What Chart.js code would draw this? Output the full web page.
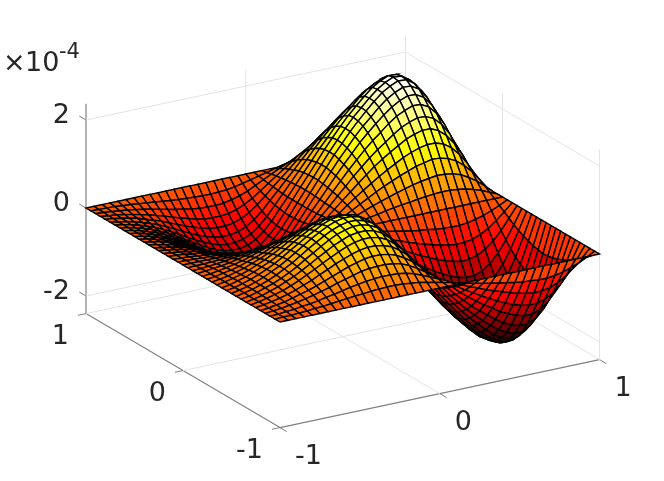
<!DOCTYPE html>
<html>
<head>
<meta charset="utf-8">
<style>html,body{margin:0;padding:0;background:#fff}</style>
<script src="https://cdn.jsdelivr.net/npm/chart.js@4"></script>
</head>
<body>
<canvas id="surf" width="664" height="481"></canvas>
<script>
// mesh positions and heights (heights in 1e-6)
const xGrid = [-1,-.95,-.9,-.85,-.8,-.75,-.7,-.65,-.6,-.55,-.5,-.45,-.4,-.35,-.3,-.25,-.2,-.15,-.1,-.05,0,.05,.1,.15,.2,.25,.3,.35,.4,.45,.5,.55,.6,.65,.7,.75,.8,.85,.9,.95,1];
const yGrid = [-1,-.95,-.9,-.85,-.8,-.75,-.7,-.65,-.6,-.55,-.5,-.45,-.4,-.35,-.3,-.25,-.2,-.15,-.1,-.05,0,.05,.1,.15,.2,.25,.3,.35,.4,.45,.5,.55,.6,.65,.7,.75,.8,.85,.9,.95,1];
const zRows = [
[0,0,0,0,0,0,0,0,0,0,0,0,0,0,0,0,0,0,0,0,0,0,0,0,0,0,0,0,0,0,0,0,0,0,0,0,0,0,0,0,0],
[0,1,1,2,3,5,6,8,10,12,14,15,17,18,19,19,18,16,14,10,6,2,-2,-6,-11,-15,-19,-22,-26,-29,-32,-35,-36,-38,-38,-36,-32,-26,-19,-10,0],
[0,1,3,4,7,9,12,16,19,23,27,30,33,35,36,36,35,32,27,20,12,4,-4,-13,-21,-29,-36,-44,-50,-56,-62,-67,-71,-74,-73,-70,-62,-51,-36,-19,0],
[0,2,4,7,10,14,18,23,28,34,39,44,49,52,53,53,51,47,39,29,17,5,-7,-19,-31,-43,-53,-64,-74,-83,-92,-99,-105,-108,-108,-102,-92,-75,-53,-27,0],
[0,2,5,8,13,18,23,29,36,43,50,57,62,67,69,69,66,60,50,38,22,7,-8,-24,-39,-55,-69,-83,-95,-106,-118,-127,-134,-139,-139,-132,-118,-97,-69,-35,0],
[0,3,6,10,15,21,28,35,44,52,61,68,75,80,83,83,79,73,61,46,27,8,-10,-29,-47,-66,-83,-100,-115,-128,-142,-154,-162,-168,-167,-159,-142,-117,-83,-42,0],
[0,3,7,12,17,24,32,41,50,60,69,78,86,92,95,95,91,83,69,52,31,10,-12,-33,-54,-75,-95,-114,-131,-147,-162,-176,-185,-192,-191,-181,-162,-133,-95,-48,0],
[0,3,7,13,19,27,35,45,55,66,76,86,94,101,104,104,100,91,76,57,34,11,-13,-36,-59,-83,-104,-125,-144,-161,-178,-193,-204,-211,-210,-199,-178,-146,-104,-53,0],
[0,3,8,14,20,28,37,47,59,70,81,92,101,107,111,111,106,97,81,61,36,11,-14,-38,-63,-88,-111,-133,-154,-172,-190,-206,-217,-225,-224,-212,-190,-156,-111,-57,0],
[0,4,8,14,21,29,39,49,61,73,84,95,104,111,115,115,110,101,84,63,37,12,-14,-40,-66,-91,-115,-138,-159,-178,-197,-213,-225,-233,-232,-220,-197,-161,-115,-59,0],
[0,4,8,14,21,30,39,50,62,74,86,96,106,113,117,117,112,102,86,64,38,12,-14,-40,-67,-93,-117,-140,-162,-181,-200,-217,-228,-237,-236,-224,-200,-164,-117,-60,0],
[0,3,8,14,21,29,38,49,61,72,84,94,104,111,114,114,110,100,84,63,37,12,-14,-40,-65,-91,-114,-137,-158,-177,-196,-212,-224,-232,-231,-219,-196,-161,-114,-58,0],
[0,3,8,13,20,28,36,46,57,69,80,90,98,105,108,108,104,95,80,60,35,11,-13,-38,-62,-86,-108,-130,-150,-168,-186,-201,-212,-220,-219,-208,-186,-152,-108,-55,0],
[0,3,7,12,18,26,34,43,53,64,74,83,91,97,100,100,96,88,74,55,33,10,-12,-35,-57,-80,-100,-121,-139,-156,-172,-187,-197,-204,-203,-193,-172,-141,-100,-51,0],
[0,3,6,11,16,23,30,38,48,57,66,74,81,87,90,90,86,79,66,49,29,9,-11,-31,-51,-71,-90,-108,-124,-139,-154,-167,-176,-182,-181,-172,-154,-126,-90,-46,0],
[0,2,6,9,14,20,26,33,41,49,57,64,70,75,77,77,74,68,57,43,25,8,-9,-27,-44,-62,-77,-93,-107,-120,-133,-144,-152,-157,-156,-149,-133,-109,-77,-40,0],
[0,2,5,8,12,16,22,28,34,41,47,53,58,62,64,64,62,56,47,35,21,7,-8,-22,-37,-51,-64,-77,-89,-100,-110,-119,-126,-130,-130,-123,-110,-90,-64,-33,0],
[0,2,4,6,9,13,17,21,26,31,36,41,45,48,49,49,47,43,36,27,16,5,-6,-17,-28,-39,-49,-59,-68,-76,-84,-91,-96,-100,-99,-94,-84,-69,-49,-25,0],
[0,1,2,4,6,9,11,14,18,21,24,28,30,32,33,33,32,29,24,18,11,3,-4,-12,-19,-27,-33,-40,-46,-52,-57,-62,-65,-68,-67,-64,-57,-47,-33,-17,0],
[0,1,1,2,3,4,6,7,9,11,13,14,16,17,17,17,16,15,13,9,6,2,-2,-6,-10,-14,-17,-21,-24,-27,-29,-32,-34,-35,-35,-33,-29,-24,-17,-9,0],
[0,0,0,0,0,0,0,0,0,0,0,0,0,0,0,0,0,0,0,0,0,0,0,0,0,0,0,0,0,0,0,0,0,0,0,0,0,0,0,0,0],
[0,0,-1,-2,-3,-4,-5,-7,-8,-10,-12,-13,-14,-15,-16,-16,-15,-14,-12,-9,-5,-2,2,5,9,12,16,19,22,24,27,29,31,32,32,30,27,22,16,8,0],
[0,-1,-2,-4,-6,-8,-10,-13,-16,-20,-23,-26,-28,-30,-31,-31,-30,-27,-23,-17,-10,-3,4,11,18,25,31,37,43,48,53,57,60,63,62,59,53,43,31,16,0],
[0,-1,-3,-6,-8,-12,-15,-20,-24,-29,-33,-38,-41,-44,-46,-46,-44,-40,-33,-25,-15,-5,6,16,26,36,46,55,63,71,78,85,89,93,92,87,78,64,46,23,0],
[0,-2,-4,-7,-11,-15,-20,-25,-31,-38,-44,-49,-54,-57,-59,-59,-57,-52,-44,-33,-19,-6,7,21,34,47,59,71,82,92,102,110,116,120,120,114,102,83,59,30,0],
[0,-2,-5,-9,-13,-18,-24,-31,-38,-46,-53,-60,-65,-70,-72,-72,-69,-63,-53,-40,-24,-7,9,25,41,57,72,87,100,112,123,134,141,146,146,138,123,101,72,37,0],
[0,-3,-6,-10,-15,-21,-28,-35,-44,-52,-61,-68,-75,-80,-83,-83,-79,-73,-61,-46,-27,-8,10,29,47,66,83,100,115,128,142,154,162,168,167,159,142,117,83,42,0],
[0,-3,-7,-11,-17,-24,-31,-40,-49,-59,-68,-77,-85,-90,-93,-93,-89,-82,-68,-51,-30,-10,11,32,53,74,93,112,129,144,160,173,182,189,188,179,160,131,93,48,0],
[0,-3,-7,-12,-19,-26,-34,-43,-54,-64,-74,-83,-92,-98,-101,-101,-97,-89,-74,-56,-33,-10,12,35,58,80,101,122,140,157,173,187,198,205,204,194,173,142,101,52,0],
[0,-3,-8,-13,-20,-27,-36,-46,-57,-68,-79,-89,-97,-104,-107,-107,-103,-94,-79,-59,-35,-11,13,37,61,85,107,129,149,166,184,199,210,218,217,206,184,151,107,55,0],
[0,-3,-8,-14,-20,-28,-37,-48,-59,-70,-82,-92,-101,-108,-111,-111,-107,-98,-82,-61,-36,-11,14,39,64,89,111,134,154,173,191,207,218,226,225,213,191,157,111,57,0],
[0,-3,-8,-14,-21,-29,-38,-48,-60,-71,-82,-93,-102,-109,-112,-112,-108,-98,-82,-62,-37,-11,14,39,64,89,112,135,156,174,192,208,220,228,227,215,192,158,112,57,0],
[0,-3,-8,-14,-20,-28,-37,-47,-59,-70,-81,-92,-101,-107,-111,-111,-106,-97,-81,-61,-36,-11,14,38,63,88,111,133,154,172,190,206,217,225,224,212,190,156,111,57,0],
[0,-3,-8,-13,-19,-27,-35,-45,-56,-67,-77,-87,-96,-102,-105,-105,-101,-92,-77,-58,-34,-11,13,37,60,84,105,127,146,163,181,196,206,214,213,202,181,148,105,54,0],
[0,-3,-7,-12,-18,-25,-33,-42,-52,-62,-72,-81,-89,-95,-98,-98,-94,-86,-72,-54,-32,-10,12,34,56,78,98,117,135,151,167,181,191,198,197,187,167,137,98,50,0],
[0,-3,-6,-11,-16,-22,-29,-37,-46,-55,-64,-72,-79,-84,-87,-87,-83,-76,-64,-48,-28,-9,11,30,50,69,87,104,120,135,149,161,170,176,175,166,149,122,87,44,0],
[0,-2,-5,-9,-13,-19,-25,-31,-39,-46,-54,-60,-66,-71,-73,-73,-70,-64,-54,-40,-24,-7,9,25,42,58,73,88,101,113,125,136,143,148,148,140,125,103,73,37,0],
[0,-2,-4,-7,-11,-15,-19,-25,-30,-36,-42,-47,-52,-56,-57,-57,-55,-50,-42,-32,-19,-6,7,20,33,46,57,69,80,89,98,106,112,116,116,110,98,81,57,29,0],
[0,-1,-3,-5,-7,-10,-13,-17,-21,-25,-29,-32,-36,-38,-39,-39,-38,-34,-29,-22,-13,-4,5,14,22,31,39,47,54,61,67,73,77,80,79,75,67,55,39,20,0],
[0,-1,-1,-2,-4,-5,-7,-9,-11,-13,-15,-17,-18,-19,-20,-20,-19,-18,-15,-11,-7,-2,2,7,11,16,20,24,28,31,34,37,39,41,41,39,34,28,20,10,0],
[0,0,0,0,0,0,0,0,0,0,0,0,0,0,0,0,0,0,0,0,0,0,0,0,0,0,0,0,0,0,0,0,0,0,0,0,0,0,0,0,0]
];
const xTicks = [-1,0,1];
const yTicks = [-1,0,1];
const zTicks = [-2,0,2];
const zMin = -2.4, zMax = 2.37;

// fixed 3d view, orthographic
function project(x, y, z) {
    return {
        x: 280 + (x + 1) * 159.75 - (y + 1) * 97,
        y: 322 - (x + 1) * 34 - (y + 1) * 57 - z * 44
    };
}
function depth(x, y, z) {
    return -0.487 * x - 0.8 * y + 0.09 * z;
}
// matlab hot
function hot(v) {
    const t = Math.min(1, Math.max(0, (v + 2.38) / 4.67));
    const r = Math.min(1, (t + 0.01) / 0.375);
    const g = Math.min(1, Math.max(0, (t - 0.375) / 0.375));
    const b = Math.min(1, Math.max(0, (t - 0.75) / 0.25));
    return `rgb(${Math.round(r * 255)},${Math.round(g * 255)},${Math.round(b * 255)})`;
}
function segment(a, b, color, width) {
    return { data: [project(a[0], a[1], a[2]), project(b[0], b[1], b[2])], borderColor: color, borderWidth: width, fill: false, order: 1000 };
}

const datasets = [];
const lightGrid = '#e4e4e4', axisLine = '#808080';

// back walls and floor
datasets.push(segment([1, 1, zMin], [1, 1, zMax], lightGrid, 1));
datasets.push(segment([1, -1, zMin], [1, -1, zMax], lightGrid, 1));
datasets.push(segment([-1, 1, zMin], [1, 1, zMin], lightGrid, 1));
datasets.push(segment([1, 1, zMin], [1, -1, zMin], lightGrid, 1));
zTicks.forEach(z => {
    datasets.push(segment([-1, 1, z], [1, 1, z], lightGrid, 1));
    datasets.push(segment([1, 1, z], [1, -1, z], lightGrid, 1));
});
datasets.push(segment([0, 1, zMin], [0, 1, zMax], lightGrid, 1));
datasets.push(segment([1, 0, zMin], [1, 0, zMax], lightGrid, 1));
datasets.push(segment([0, -1, zMin], [0, 1, zMin], lightGrid, 1));
datasets.push(segment([-1, 0, zMin], [1, 0, zMin], lightGrid, 1));

// axes and ticks
datasets.push(segment([-1, -1, zMin], [1, -1, zMin], axisLine, 1.2));
datasets.push(segment([-1, -1, zMin], [-1, 1, zMin], axisLine, 1.2));
datasets.push(segment([-1, 1, zMin], [-1, 1, zMax], axisLine, 1.2));
xTicks.forEach(x => datasets.push(segment([x, -1, zMin], [x, -1.07, zMin], axisLine, 1)));
yTicks.forEach(y => datasets.push(segment([-1, y, zMin], [-1.05, y, zMin], axisLine, 1)));
zTicks.forEach(z => datasets.push(segment([-1, 1, z], [-1, 1.07, z], axisLine, 1)));

// surface cells
for (let j = 0; j < yGrid.length - 1; j++) {
    for (let i = 0; i < xGrid.length - 1; i++) {
        const corners = [[i, j], [i + 1, j], [i + 1, j + 1], [i, j + 1], [i, j]];
        const zs = corners.slice(0, 4).map(c => zRows[c[1]][c[0]] / 100);
        const mean = (zs[0] + zs[1] + zs[2] + zs[3]) / 4;
        const cx = (xGrid[i] + xGrid[i + 1]) / 2, cy = (yGrid[j] + yGrid[j + 1]) / 2;
        datasets.push({
            data: corners.map(c => project(xGrid[c[0]], yGrid[c[1]], zRows[c[1]][c[0]] / 100)),
            borderColor: '#000',
            borderWidth: 1.4,
            backgroundColor: hot(mean),
            fill: 'shape',
            order: -depth(cx, cy, mean)
        });
    }
}

// tick labels and exponent
const labelsPlugin = {
    id: 'labels',
    afterDraw(chart) {
        const ctx = chart.ctx;
        ctx.save();
        ctx.fillStyle = '#262626';
        ctx.font = '27px "DejaVu Sans"';
        ctx.textAlign = 'right';
        zTicks.forEach(z => {
            const p = project(-1, 1, z);
            ctx.fillText(String(z), p.x - 16, p.y + 3);
        });
        yTicks.forEach(y => {
            const p = project(-1, y, zMin);
            ctx.fillText(String(y), p.x - 17, p.y + 30);
        });
        ctx.textAlign = 'left';
        xTicks.forEach(x => {
            const p = project(x, -1, zMin);
            ctx.fillText(String(x), p.x + 15, p.y + 36);
        });
        ctx.fillText('×', 3, 71);
        ctx.fillText('10', 25, 71);
        ctx.font = '21px "DejaVu Sans"';
        ctx.fillText('-4', 59, 58);
        ctx.restore();
    }
};

new Chart(document.getElementById('surf').getContext('2d'), {
    type: 'line',
    data: { datasets: datasets },
    plugins: [labelsPlugin],
    options: {
        responsive: false,
        animation: false,
        parsing: false,
        normalized: false,
        layout: { padding: 0 },
        elements: { point: { radius: 0 }, line: { tension: 0 } },
        plugins: { legend: { display: false }, tooltip: { enabled: false } },
        scales: {
            x: { type: 'linear', min: 0, max: 664, display: false },
            y: { type: 'linear', min: 0, max: 481, reverse: true, display: false }
        }
    }
});
</script>
</body>
</html>
